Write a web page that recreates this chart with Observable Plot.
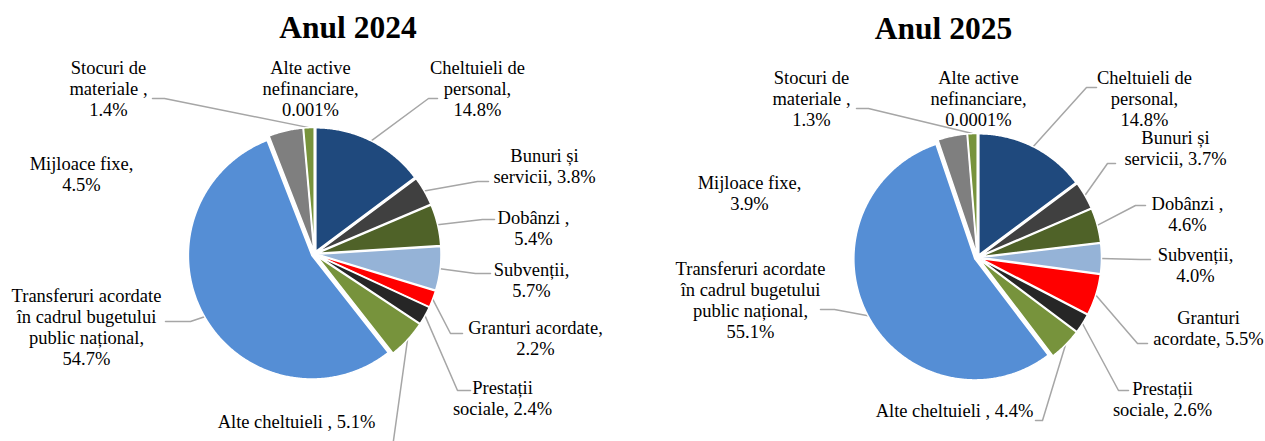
<!DOCTYPE html>
<html>
<head>
<meta charset="utf-8">
<script src="https://cdn.jsdelivr.net/npm/d3@7"></script>
<script src="https://cdn.jsdelivr.net/npm/@observablehq/plot@0.6"></script>
<style>
  html, body { margin: 0; padding: 0; background: #fff; }
  #chart svg { display: block; }
</style>
</head>
<body>
<div id="chart"></div>
<script>
// ---------------- DATA ----------------
const categories = [
  "Cheltuieli de personal",
  "Bunuri și servicii",
  "Dobânzi",
  "Subvenții",
  "Granturi acordate",
  "Prestații sociale",
  "Alte cheltuieli",
  "Transferuri acordate în cadrul bugetului public național",
  "Mijloace fixe",
  "Stocuri de materiale",
  "Alte active nefinanciare"
];
const values2024 = [14.8, 3.8, 5.4, 5.7, 2.2, 2.4, 5.1, 54.7, 4.5, 1.4, 0.001];
const values2025 = [14.8, 3.7, 4.6, 4.0, 5.5, 2.6, 4.4, 55.1, 3.9, 1.3, 0.0001];
const titles = ["Anul 2024", "Anul 2025"];

// label text templates ({v} = value)
const labelTemplates2024 = [
  "Cheltuieli de\npersonal,\n{v}",
  "Bunuri și\nservicii, {v}",
  "Dobânzi ,\n{v}",
  "Subvenții,\n{v}",
  "Granturi acordate,\n{v}",
  "Prestații\nsociale, {v}",
  "Alte cheltuieli , {v}",
  "Transferuri acordate\nîn cadrul bugetului\npublic național,\n{v}",
  "Mijloace fixe,\n{v}",
  "Stocuri de\nmateriale ,\n{v}",
  "Alte active\nnefinanciare,\n{v}"
];
const labelTemplates2025 = [
  "Cheltuieli de\npersonal,\n{v}",
  "Bunuri și\nservicii, {v}",
  "Dobânzi ,\n{v}",
  "Subvenții,\n{v}",
  "Granturi\nacordate, {v}",
  "Prestații\nsociale, {v}",
  "Alte cheltuieli , {v}",
  "Transferuri acordate\nîn cadrul bugetului\npublic național,\n{v}",
  "Mijloace fixe,\n{v}",
  "Stocuri de\nmateriale ,\n{v}",
  "Alte active\nnefinanciare,\n{v}"
];

// ---------------- STYLE ----------------
const sliceColors = [
  "#1F497D", "#404040", "#4F6228", "#95B3D7", "#FF0000", "#262626",
  "#77933C", "#558ED5", "#7F7F7F", "#77933C", "#4BACC6"
];

// ---------------- LAYOUT ----------------
const W = 1265, H = 441;
const labelFont = 18.5, titleFont = 31.5;
const explode = 3;

// label placement per slice: x (centre), base (first baseline), elbow/end of leader
const layout2024 = [
  {x: 477, base: 72,  elbow: [428, 98],  end: [437, 98]},
  {x: 544, base: 160, elbow: [477, 181], end: [488, 181]},
  {x: 533, base: 222, elbow: [482, 219], end: [494, 219]},
  {x: 531, base: 274, elbow: [475, 273], end: [490, 273]},
  {x: 535, base: 332, elbow: [450, 333], end: [462, 333]},
  {x: 502, base: 392, elbow: [457, 390], end: [470, 390]},
  {x: 296, base: 426, elbow: [392, 447], end: [380, 447]},
  {x: 86,  base: 300, elbow: [190, 321], end: [165, 321]},
  {x: 81,  base: 168},
  {x: 108, base: 72,  elbow: [164, 98],  end: [152, 98]},
  {x: 310, base: 72}
];
const layout2025 = [
  {x: 1144, base: 82,  elbow: [1086, 87],  end: [1096, 87]},
  {x: 1175, base: 142, elbow: [1107, 163], end: [1115, 163]},
  {x: 1187, base: 208, elbow: [1135, 205], end: [1145, 205]},
  {x: 1195, base: 259, elbow: [1140, 259], end: [1150, 259]},
  {x: 1208, base: 322, elbow: [1137, 343], end: [1147, 343]},
  {x: 1162, base: 393, elbow: [1118, 390], end: [1128, 390]},
  {x: 954,  base: 415, elbow: [1042, 420], end: [1035, 420]},
  {x: 750,  base: 273, elbow: [834, 309],  end: [820, 309]},
  {x: 749,  base: 187},
  {x: 811,  base: 82,  elbow: [868, 108],  end: [856, 108]},
  {x: 978,  base: 82}
];

const pies = [
  {cx: 314, cy: 253.5, r: 123.5, tx: 347.5, tb: 37, values: values2024, tpl: labelTemplates2024, lay: layout2024, title: titles[0]},
  {cx: 977, cy: 257,   r: 121,   tx: 943,   tb: 38, values: values2025, tpl: labelTemplates2025, lay: layout2025, title: titles[1]}
];

function fmt(v) { return v >= 0.1 ? v.toFixed(1) + "%" : String(v) + "%"; }

const slicePts = [], leaderPts = [], labels = [], titleRows = [];
pies.forEach((p, pi) => {
  const arcs = d3.pie().sort(null).value(d => d)(p.values);
  arcs.forEach((a, i) => {
    const cat = categories[i];
    const key = pi + "-" + i;
    const mid = (a.startAngle + a.endAngle) / 2;
    const ox = p.cx + explode * Math.sin(mid), oy = p.cy - explode * Math.cos(mid);
    slicePts.push({key, cat, x: ox, y: oy});
    const n = Math.max(2, Math.ceil((a.endAngle - a.startAngle) / (Math.PI / 360)));
    for (let k = 0; k <= n; k++) {
      const t = a.startAngle + (a.endAngle - a.startAngle) * k / n;
      slicePts.push({key, cat, x: ox + p.r * Math.sin(t), y: oy - p.r * Math.cos(t)});
    }
    slicePts.push({key, cat, x: ox, y: oy});

    const L = p.lay[i];
    labels.push({
      x: L.x,
      y: L.base - 0.71 * labelFont,
      text: p.tpl[i].replace("{v}", fmt(p.values[i]))
    });
    if (L.elbow) {
      const rr = p.r + explode;
      leaderPts.push({key, x: p.cx + rr * Math.sin(mid), y: p.cy - rr * Math.cos(mid)});
      leaderPts.push({key, x: L.elbow[0], y: L.elbow[1]});
      leaderPts.push({key, x: L.end[0], y: L.end[1]});
    }
  });
  titleRows.push({x: p.tx, y: p.tb - 0.71 * titleFont, text: p.title});
});

const chart = Plot.plot({
  width: W,
  height: H,
  margin: 0,
  x: {domain: [0, W], range: [0, W], axis: null},
  y: {domain: [0, H], range: [0, H], axis: null},
  color: {domain: categories, range: sliceColors},
  style: {fontFamily: "'Liberation Serif', 'Times New Roman', serif", background: "#fff", color: "#000"},
  marks: [
    Plot.line(leaderPts, {x: "x", y: "y", z: "key", stroke: "#A6A6A6", strokeWidth: 1.5, curve: "linear"}),
    Plot.line(slicePts, {x: "x", y: "y", z: "key", fill: "cat", stroke: "white", strokeWidth: 1.5, strokeLinejoin: "round", curve: "linear"}),
    Plot.text(labels, {x: "x", y: "y", text: "text", fontSize: labelFont, lineAnchor: "top", lineHeight: 21 / labelFont, textAnchor: "middle", fill: "#000"}),
    Plot.text(titleRows, {x: "x", y: "y", text: "text", fontSize: titleFont, fontWeight: "bold", lineAnchor: "top", textAnchor: "middle", fill: "#000"})
  ]
});
document.getElementById("chart").appendChild(chart);
</script>
</body>
</html>
